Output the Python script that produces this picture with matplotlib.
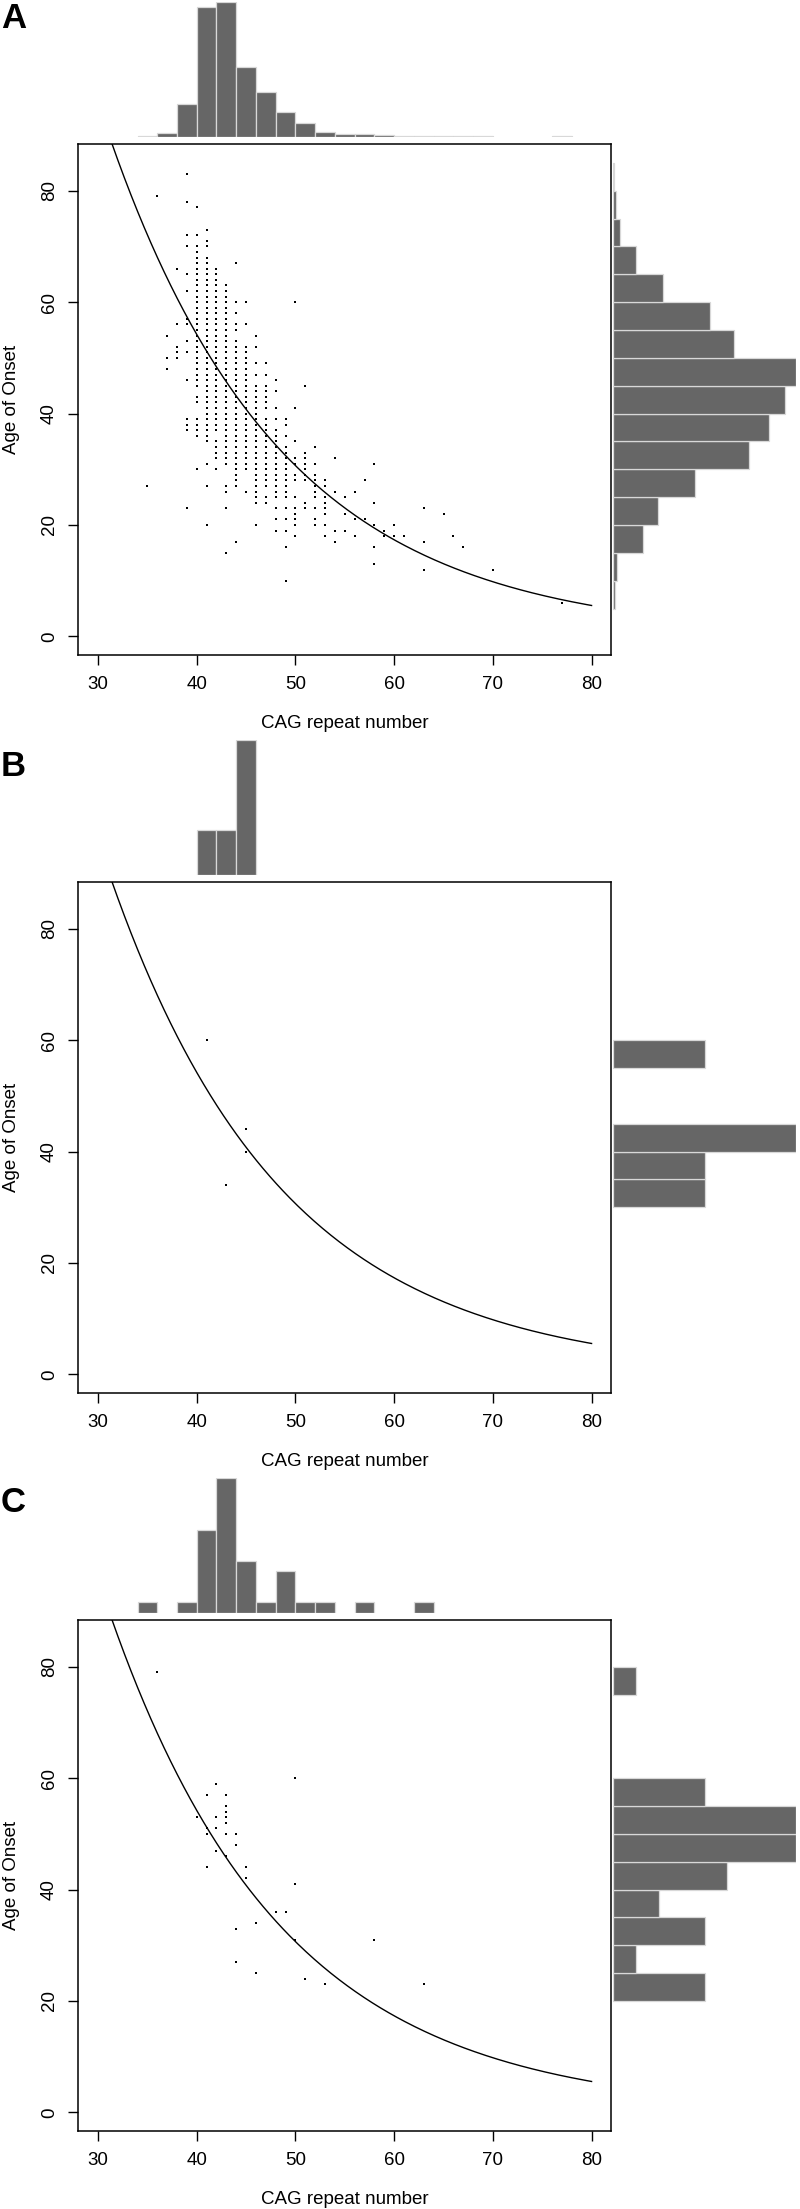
import matplotlib.pyplot as plt
import numpy as np

plt.rcParams['font.family'] = ['Liberation Sans', 'DejaVu Sans']
plt.rcParams['font.size'] = 13.5

# fitted onset curve: age = fit_a * exp(-fit_b * CAG)
fit_a = 530.0
fit_b = 0.057

### Panel A: all subjects (ages listed per CAG value)
cag_a = [35, 36, 37, 38, 39, 40, 41, 42, 43, 44, 45, 46, 47, 48, 49, 50, 51, 52, 53,
         54, 55, 56, 57, 58, 59, 60, 61, 63, 65, 66, 67, 70, 77]
onset_a = [
    [27],
    [79],
    [54, 50, 48],
    [66, 56, 52, 51, 50],
    [83, 78, 72, 70, 65, 62, 57, 56, 53, 51, 46, 39, 38, 37, 23],
    [77, 72, 70, 69, 68, 67, 66, 65, 64, 63, 62, 61, 60, 59, 58, 57, 56, 55, 54, 53, 52, 51,
     50, 49, 48, 47, 46, 45, 43, 42, 39, 38, 37, 36, 30],
    [73, 71, 70, 68, 67, 66, 65, 64, 63, 62, 61, 60, 59, 58, 57, 56, 55, 54, 53, 52, 51, 50,
     49, 48, 47, 46, 45, 44, 43, 42, 41, 40, 39, 38, 37, 36, 35, 31, 27, 20],
    [66, 65, 64, 63, 62, 61, 60, 59, 58, 57, 56, 55, 54, 53, 52, 51, 50, 49, 48, 47, 46, 45,
     44, 43, 42, 41, 40, 39, 38, 37, 35, 34, 33, 32, 30],
    [63, 62, 61, 60, 59, 58, 57, 56, 55, 54, 53, 52, 51, 50, 49, 48, 47, 46, 45, 44, 43, 42,
     41, 40, 39, 38, 37, 36, 35, 34, 33, 32, 31, 27, 26, 23, 15],
    [67, 60, 58, 56, 55, 53, 52, 51, 50, 49, 48, 47, 46, 45, 44, 43, 42, 41, 40, 39, 38, 37,
     36, 35, 34, 33, 32, 31, 30, 29, 28, 27, 17],
    [60, 56, 52, 51, 50, 49, 48, 47, 46, 45, 44, 43, 42, 41, 40, 39, 38, 37, 36, 35, 34, 33,
     32, 31, 30, 26],
    [54, 52, 49, 47, 45, 44, 43, 42, 41, 40, 39, 38, 37, 36, 35, 34, 33, 32, 31, 30, 29, 28,
     27, 26, 25, 24, 20],
    [49, 47, 45, 44, 43, 42, 41, 39, 38, 37, 36, 35, 34, 33, 32, 31, 30, 29, 28, 27, 25, 24],
    [46, 44, 41, 39, 37, 36, 35, 34, 33, 32, 31, 30, 29, 28, 27, 26, 25, 23, 21, 19],
    [39, 38, 36, 34, 33, 32, 31, 30, 29, 28, 27, 26, 25, 23, 21, 19, 16, 10],
    [60, 41, 35, 32, 31, 29, 28, 25, 23, 22, 21, 20, 18],
    [45, 33, 32, 31, 30, 29, 28, 24, 23],
    [34, 31, 29, 28, 27, 26, 25, 23, 21, 20],
    [28, 27, 25, 24, 23, 22, 20, 18],
    [32, 26, 19, 17],
    [25, 22, 19],
    [26, 21, 18],
    [28, 21],
    [31, 24, 20, 16, 13],
    [19, 18],
    [20, 18],
    [18],
    [23, 17, 12],
    [22],
    [18],
    [16],
    [12],
    [6],
]
cag_edges_a = [34, 36, 38, 40, 42, 44, 46, 48, 50, 52, 54, 56, 58, 60, 62, 64, 66, 68, 70,
               72, 74, 76, 78]
cag_counts_a = [2, 10, 103, 402, 418, 216, 139, 78, 42, 16, 7, 9, 5, 1, 3, 1, 2, 1, 0, 0, 0, 1]
age_edges_a = [5, 10, 15, 20, 25, 30, 35, 40, 45, 50, 55, 60, 65, 70, 75, 80, 85]
age_counts_a = [2, 5, 39, 59, 108, 178, 205, 226, 240, 159, 127, 66, 30, 9, 4, 1]

### Panel B
cag_b = [41, 45, 45, 43]
onset_b = [60, 44, 40, 34]
cag_edges_b = [40, 42, 44, 46]
cag_counts_b = [1, 1, 3]
age_edges_b = [30, 35, 40, 45, 50, 55, 60]
age_counts_b = [1, 1, 2, 0, 0, 1]

### Panel C
cag_c = [36, 40, 41, 41, 41, 41, 42, 42, 42, 42, 43, 43, 43, 43, 43, 43, 43, 44, 44, 44, 44,
         45, 45, 46, 46, 48, 49, 50, 50, 50, 51, 53, 58, 63]
onset_c = [79, 53, 57, 51, 50, 44, 59, 53, 51, 47, 57, 55, 54, 53, 52, 50, 46, 50, 48, 33, 27,
           44, 42, 34, 25, 36, 36, 60, 41, 31, 24, 23, 31, 23]
cag_edges_c = [34, 36, 38, 40, 42, 44, 46, 48, 50, 52, 54, 56, 58, 60, 62, 64]
cag_counts_c = [1, 0, 1, 8, 13, 5, 1, 4, 1, 1, 0, 1, 0, 0, 1]
age_edges_c = [20, 25, 30, 35, 40, 45, 50, 55, 60, 65, 70, 75, 80]
age_counts_c = [4, 1, 4, 2, 5, 8, 8, 4, 0, 0, 0, 1]

W, H = 800, 2209
fig = plt.figure(figsize=(W / 100, H / 100), dpi=100)

bar_color = '#666666'
bar_edge = '#d8d8d8'


def draw_panel(top_px, letter, letter_base, xs, ys, cag_edges, cag_counts, age_edges, age_counts):
    left, right = 78.3, 611.3
    box_h = 511.3
    bottom_px = top_px + box_h

    ax = fig.add_axes([left / W, 1 - bottom_px / H, (right - left) / W, box_h / H])
    x_curve = np.linspace(30, 80, 300)
    ax.plot(x_curve, fit_a * np.exp(-fit_b * x_curve), color='black', lw=1.0)
    ax.plot(xs, ys, 's', color='black', ms=1.8, mew=0)
    ax.set_xlim(28, 82)
    ax.set_ylim(-3.4, 88.4)
    ax.set_xticks([30, 40, 50, 60, 70, 80])
    ax.set_yticks([0, 20, 40, 60, 80])
    ax.tick_params(direction='out', length=7.2, width=1.0, pad=7.5, labelsize=13.5)
    ax.tick_params(axis='y', labelrotation=90)
    for lab in ax.get_yticklabels():
        lab.set_va('center')
    for s in ax.spines.values():
        s.set_linewidth(1.1)

    fig.text(12 / W, 1 - (top_px + box_h / 2) / H, 'Age of Onset', rotation=90,
             ha='center', va='center', fontsize=13.5)
    fig.text((left + right) / 2 / W, 1 - (bottom_px + 68) / H, 'CAG repeat number',
             ha='center', va='center', fontsize=13.5)
    fig.text(1 / W, 1 - letter_base / H, letter, ha='left', va='baseline',
             fontsize=25, fontweight='bold')

    # top histogram of CAG
    axt = fig.add_axes([left / W, 1 - (top_px - 7.3) / H, (right - left) / W, 134.4 / H])
    ce = np.array(cag_edges, dtype=float)
    cc = np.array(cag_counts, dtype=float)
    keep = cc > 0
    axt.bar(ce[:-1][keep], cc[keep], width=np.diff(ce)[keep], align='edge',
            color=bar_color, edgecolor=bar_edge, linewidth=0.9)
    axt.set_xlim(28, 82)
    axt.set_ylim(0, cc.max())
    axt.axis('off')

    # right histogram of onset age
    axr = fig.add_axes([613.3 / W, 1 - bottom_px / H, 182.4 / W, box_h / H])
    ae = np.array(age_edges, dtype=float)
    ac = np.array(age_counts, dtype=float)
    keep = ac > 0
    axr.barh(ae[:-1][keep], ac[keep], height=np.diff(ae)[keep], align='edge',
             color=bar_color, edgecolor=bar_edge, linewidth=0.9)
    axr.set_ylim(-3.4, 88.4)
    axr.set_xlim(0, ac.max())
    axr.axis('off')


xs_a = np.concatenate([[c] * len(v) for c, v in zip(cag_a, onset_a)])
ys_a = np.concatenate(onset_a)

draw_panel(144, 'A', 28, xs_a, ys_a, cag_edges_a, cag_counts_a, age_edges_a, age_counts_a)
draw_panel(882, 'B', 776, cag_b, onset_b, cag_edges_b, cag_counts_b, age_edges_b, age_counts_b)
draw_panel(1620, 'C', 1512, cag_c, onset_c, cag_edges_c, cag_counts_c, age_edges_c, age_counts_c)

fig.savefig('out.png', dpi=100)
